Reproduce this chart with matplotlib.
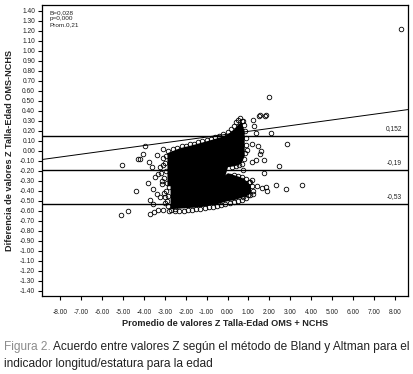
import matplotlib
matplotlib.use("Agg")
import matplotlib.pyplot as plt
from matplotlib import font_manager
import numpy as np

# --- data (Bland-Altman, Z talla-edad OMS vs NCHS) ---
mean_diff = -0.19
upper_limit = 0.152
lower_limit = -0.53
reg_intercept = 0.165
reg_slope = 0.0285
stats_text = "B=0,028\np=0,000\nProm.0,21"

# dense core of the cloud (too many points to read one by one): envelopes
upper_x = [-2.9, -2.3, -1.7, -1.0, -0.5, -0.2, 0.0, 0.3, 0.5, 0.65, 0.8]
upper_top = [-0.02, 0.03, 0.06, 0.10, 0.13, 0.15, 0.17, 0.22, 0.27, 0.29, 0.20]
upper_bot = [-0.35, -0.35, -0.35, -0.35, -0.35, -0.30, -0.16, -0.15, -0.14, -0.12, -0.05]
lower_x = [-2.75, -2.0, -1.3, -0.5, -0.2, 0.0, 0.3, 0.6, 0.9, 1.1]
lower_top = [-0.25, -0.25, -0.25, -0.25, -0.25, -0.22, -0.24, -0.26, -0.30, -0.35]
lower_bot = [-0.58, -0.57, -0.56, -0.53, -0.51, -0.50, -0.49, -0.47, -0.45, -0.42]

# points along the edge of the dense cloud
edge_x = [-2.95, -3.0, -2.95, -3.05, -2.9, -2.85, -2.6, -2.4, -2.2, -2.0, -1.8, -1.6,
          -1.4, -1.2, -1.0, -0.8, -0.6, -0.4, -0.2, 0.0, 0.15, 0.3, 0.4, 0.5, 0.6,
          0.7, 0.8, 0.85, 0.9, 0.88, 0.85, 0.8, 0.7, 0.55, 0.4, 0.2,
          0.1, 0.3, 0.5, 0.7, 0.9, 1.05, 1.15, 1.2, 1.1, 0.9, 0.7, 0.5, 0.3, 0.1,
          -0.1, -0.3, -0.5, -0.7, -0.9, -1.1, -1.3, -1.5, -1.7, -1.9, -2.1, -2.3,
          -2.5, -2.7, -2.85, -2.9, -2.85, -2.95, -2.8,
          -3.1, -3.2, -3.05, -3.15, -3.0, -3.1]
edge_y = [-0.05, -0.12, -0.20, -0.27, -0.32, 0.0, 0.02, 0.03, 0.05, 0.05, 0.07, 0.07,
          0.09, 0.10, 0.11, 0.12, 0.14, 0.15, 0.17, 0.19, 0.22, 0.25, 0.29, 0.31, 0.33,
          0.30, 0.26, 0.20, 0.13, 0.06, -0.02, -0.08, -0.13, -0.14, -0.15, -0.16,
          -0.25, -0.24, -0.25, -0.26, -0.28, -0.31, -0.35, -0.40, -0.44, -0.47, -0.49,
          -0.50, -0.51, -0.52, -0.53, -0.54, -0.55, -0.56, -0.56, -0.57, -0.58, -0.58,
          -0.59, -0.59, -0.60, -0.60, -0.60, -0.59, -0.55, -0.50, -0.45, -0.40, -0.36,
          -0.07, -0.22, -0.42, -0.30, -0.52, -0.14]

# scattered points outside the cloud
out_x = [-5.06, -4.27, -4.39, -5.11, -4.75, -3.95, -4.06, -4.19, -3.10, -3.39,
         -3.74, -3.63, -3.23, -3.79, -3.55, -3.39, -3.71, -3.23, -3.55, -3.71,
         -3.52, -3.31, -3.07, -2.78, -2.51, -2.99, -3.15, -3.47, -3.31,
         1.99, 1.52, 1.79, 1.21, 0.76, 1.28, 2.08, 1.36, 2.83, 1.16, 1.47, 1.60,
         0.92, 1.76, 1.35, 1.16, 2.46, 0.73, 1.75, 1.16, 0.68, 3.58, 2.80, 2.32,
         1.83, 1.88, 1.64, 1.40, 1.24, 1.00, 0.76, 1.08, 1.55, 1.83, 1.55, 8.30]
out_y = [-0.14, -0.08, -0.40, -0.64, -0.60, 0.05, -0.03, -0.08, 0.02, -0.04,
         -0.11, -0.16, -0.16, -0.32, -0.38, -0.43, -0.49, -0.46, -0.53, -0.63,
         -0.61, -0.59, -0.59, -0.60, -0.58, -0.46, -0.33, -0.26, -0.23,
         0.54, 0.35, 0.35, 0.31, 0.30, 0.25, 0.18, 0.18, 0.07, 0.07, 0.05, 0.00,
         0.01, -0.09, -0.09, -0.11, -0.15, -0.19, -0.22, -0.29, -0.29, -0.34, -0.38,
         -0.34, -0.36, -0.40, -0.37, -0.35, -0.43, -0.44, -0.46, -0.31, 0.36, 0.36,
         -0.03, 1.22]

x_ticks = np.arange(-8, 9, 1)
y_ticks = np.round(np.arange(-1.4, 1.41, 0.1), 2)

caption_head = "Figura 2."
caption_line1 = "Acuerdo entre valores Z según el método de Bland y Altman para el"
caption_line2 = "indicador longitud/estatura para la edad"

installed = {f.name for f in font_manager.fontManager.ttflist}
base_font = "Liberation Sans" if "Liberation Sans" in installed else "DejaVu Sans"
plt.rcParams["font.family"] = [base_font, "DejaVu Sans"]

fig = plt.figure(figsize=(4.14, 3.74), dpi=100)
W, H = 414, 374
ax = fig.add_axes([42 / W, 1 - 296 / H, (408 - 42) / W, (296 - 5) / H])

# cloud
ax.fill_between(upper_x, upper_bot, upper_top, color="black", lw=0, zorder=2)
ax.fill_between(lower_x, lower_bot, lower_top, color="black", lw=0, zorder=2)
ax.plot(edge_x, edge_y, "o", mfc="none", mec="black", ms=3.3, mew=0.6, zorder=3)
ax.plot(out_x, out_y, "o", mfc="none", mec="black", ms=3.3, mew=0.6, zorder=3)

ax.set_xlim(-8.88, 8.64)
ax.set_ylim(-1.453, 1.457)

# regression line and reference lines
xl = np.array(ax.get_xlim())
ax.plot(xl, reg_intercept + reg_slope * xl, color="black", lw=0.7, zorder=4)
for v, lab in [(upper_limit, "0,152"), (mean_diff, "-0,19"), (lower_limit, "-0,53")]:
    ax.axhline(v, color="black", lw=1.0, zorder=4)
    ax.text(8.35, v + 0.035, lab, ha="right", va="bottom", fontsize=4.8, color="#222222")

ax.text(-8.5, 1.40, stats_text, ha="left", va="top", fontsize=4.6,
        color="#222222", linespacing=1.15)

ax.set_xticks(x_ticks)
ax.set_xticklabels([f"{v:.2f}" for v in x_ticks])
ax.set_yticks(y_ticks)
ax.set_yticklabels([f"{v:.2f}" for v in y_ticks])
ax.tick_params(axis="both", direction="out", length=3, width=0.8,
               labelsize=4.8, labelcolor="#222222", pad=2)
ax.tick_params(axis="x", pad=6)
for s in ax.spines.values():
    s.set_linewidth(0.9)

fig.text(225 / W, 1 - 323 / H, "Promedio de valores Z Talla-Edad OMS + NCHS",
         ha="center", va="center", fontsize=6.6, fontweight="bold", color="#222222")
fig.text(10 / W, 1 - 150 / H, "Diferencia de valores Z Talla-Edad OMS-NCHS",
         ha="center", va="center", rotation=90, fontsize=6.6, fontweight="bold",
         color="#222222")

# caption: size chosen so the first line runs from x=4 to x=410
def draw_caption(size):
    t1 = fig.text(4 / W, 1 - 347 / H, caption_head, ha="left", va="center",
                  fontsize=size, color="#8c8c8c")
    fig.canvas.draw()
    bb = t1.get_window_extent()
    t2 = fig.text((bb.x1 + 0.3 * size) / W, 1 - 347 / H, caption_line1,
                  ha="left", va="center", fontsize=size, color="#222222")
    t3 = fig.text(4 / W, 1 - 364 / H, caption_line2, ha="left", va="center",
                  fontsize=size, color="#222222")
    fig.canvas.draw()
    return [t1, t2, t3], t2.get_window_extent().x1

texts, right = draw_caption(9.0)
size = 9.0 * (410 - 4) / (right - 4)
for t in texts:
    t.remove()
draw_caption(size)

fig.savefig("out.png", dpi=100)
